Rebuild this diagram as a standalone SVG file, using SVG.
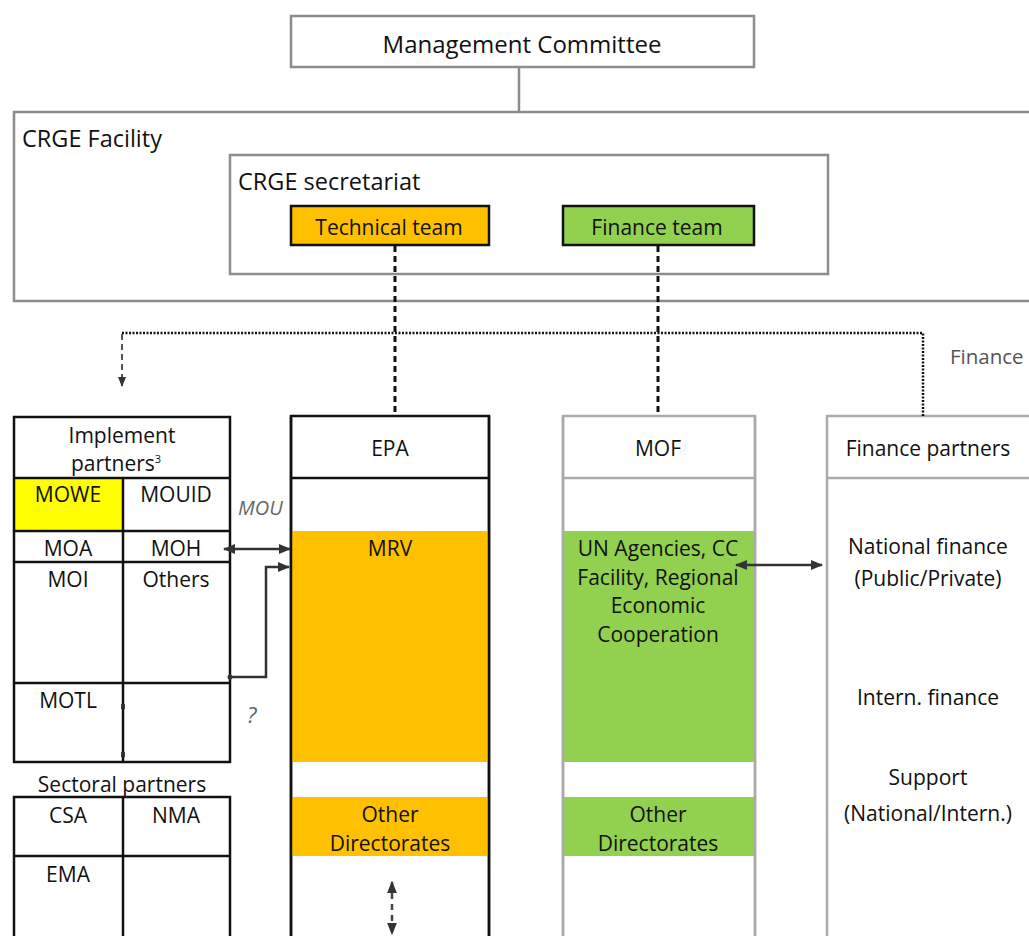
<svg xmlns="http://www.w3.org/2000/svg" width="1029" height="936" viewBox="0 0 1029 936">
<defs>
<style>
text{font-family:"Open Sans","Noto Sans","Liberation Sans",sans-serif;fill:#111;}
.t24{font-size:24px;}
.t23{font-size:23.5px;}
.t19{font-size:21px;}
.c{text-anchor:middle;}
.gbox{fill:none;stroke:#8c8c8c;stroke-width:2.5;}
.gcol{fill:#fff;stroke:#aaa;stroke-width:2.5;}
.bcol{fill:#fff;stroke:#111;stroke-width:2.5;}
.bl{stroke:#111;stroke-width:2.5;fill:none;}
.gl{stroke:#aaa;stroke-width:2.5;fill:none;}
.dash{stroke:#111;stroke-width:3;stroke-dasharray:6 4;fill:none;}
.dot{stroke:#111;stroke-width:2.5;stroke-dasharray:2 1.5;fill:none;}
.arr{stroke:#333;stroke-width:2.5;fill:none;}
.note{font-style:italic;fill:#666;font-size:20px;}
</style>
<marker id="ah" viewBox="0 0 10 10" refX="9" refY="5" markerWidth="5" markerHeight="5" orient="auto-start-reverse"><path d="M0,1 L10,5 L0,9 z" fill="#333"/></marker>
</defs>

<g id="mc">
<rect class="gbox" x="291" y="16" width="463" height="51" fill="#fff"/>
<text class="t24 c" x="522" y="53">Management Committee</text>
</g>

<g id="facility">
<rect class="gbox" x="14" y="112" width="1030" height="189"/>
<text class="t23" x="22" y="147">CRGE Facility</text>
</g>

<g id="secretariat">
<rect class="gbox" x="230" y="155" width="598" height="119"/>
<text class="t23" x="238" y="190">CRGE secretariat</text>
</g>

<g id="technical-team">
<rect x="291" y="206" width="198" height="39" fill="#FFC000" stroke="#111" stroke-width="2.5"/>
<text class="t19 c" x="389" y="235">Technical team</text>
</g>

<g id="finance-team">
<rect x="563" y="206" width="191" height="39" fill="#92D050" stroke="#111" stroke-width="2.5"/>
<text class="t19 c" x="657" y="235">Finance team</text>
</g>

<g id="finance-label">
<text x="950" y="364" style="font-size:20.5px;fill:#555">Finance</text>
</g>

<g id="implement-partners">
<rect x="14" y="478" width="109" height="53" fill="#FFFF00"/>
<rect class="bl" x="14" y="417" width="216" height="345"/>
<line class="bl" x1="14" y1="478" x2="230" y2="478"/>
<line class="bl" x1="14" y1="531" x2="230" y2="531"/>
<line class="bl" x1="14" y1="562" x2="230" y2="562"/>
<line class="bl" x1="14" y1="683" x2="230" y2="683"/>
<line class="bl" x1="123" y1="478" x2="123" y2="762"/>
<rect x="121" y="704" width="4" height="5" fill="#333"/>
<rect x="121" y="752" width="4" height="5" fill="#333"/>
<text class="t19 c" x="122" y="443">Implement</text>
<text class="t19 c" x="116" y="471">partners<tspan dy="-8" style="font-size:11px">3</tspan></text>
<text class="t19 c" x="68" y="502">MOWE</text>
<text class="t19 c" x="176" y="502">MOUID</text>
<text class="t19 c" x="68" y="556">MOA</text>
<text class="t19 c" x="176" y="556">MOH</text>
<text class="t19 c" x="68" y="587">MOI</text>
<text class="t19 c" x="176" y="587">Others</text>
<text class="t19 c" x="68" y="708">MOTL</text>
</g>

<g id="sectoral-partners">
<text class="t19 c" x="122" y="792">Sectoral partners</text>
<rect class="bl" x="14" y="797" width="216" height="150"/>
<line class="bl" x1="14" y1="856" x2="230" y2="856"/>
<line class="bl" x1="123" y1="797" x2="123" y2="946"/>
<text class="t19 c" x="68" y="823">CSA</text>
<text class="t19 c" x="176" y="823">NMA</text>
<text class="t19 c" x="68" y="882">EMA</text>
</g>

<g id="epa">
<rect class="bcol" x="291" y="416" width="198" height="540"/>
<rect x="292" y="531" width="196" height="231" fill="#FFC000"/>
<rect x="292" y="797" width="196" height="59" fill="#FFC000"/>
<line class="bl" x1="291" y1="478" x2="489" y2="478"/>
<line class="bl" x1="291" y1="416" x2="291" y2="946"/>
<line class="bl" x1="489" y1="416" x2="489" y2="946"/>
<text class="t19 c" x="390" y="456">EPA</text>
<text class="t19 c" x="390" y="556">MRV</text>
<text class="t19 c" x="390" y="822">Other</text>
<text class="t19 c" x="390" y="851">Directorates</text>
</g>

<g id="mof">
<rect class="gcol" x="563" y="416" width="192" height="540"/>
<rect x="564" y="531" width="190" height="231" fill="#92D050"/>
<rect x="564" y="797" width="190" height="59" fill="#92D050"/>
<line class="gl" x1="563" y1="478" x2="755" y2="478"/>
<line class="gl" x1="563" y1="416" x2="563" y2="946"/>
<line class="gl" x1="755" y1="416" x2="755" y2="946"/>
<text class="t19 c" x="658" y="456">MOF</text>
<text class="t19 c" x="658" y="556">UN Agencies, CC</text>
<text class="t19 c" x="658" y="585">Facility, Regional</text>
<text class="t19 c" x="658" y="613">Economic</text>
<text class="t19 c" x="658" y="642">Cooperation</text>
<text class="t19 c" x="658" y="822">Other</text>
<text class="t19 c" x="658" y="851">Directorates</text>
</g>

<g id="finance-partners">
<rect class="gcol" x="827" y="416" width="220" height="540"/>
<line class="gl" x1="827" y1="478" x2="1040" y2="478"/>
<text class="t19 c" x="928" y="456">Finance partners</text>
<text class="t19 c" x="928" y="554">National finance</text>
<text class="t19 c" x="928" y="586">(Public/Private)</text>
<text class="t19 c" x="928" y="705">Intern. finance</text>
<text class="t19 c" x="928" y="785">Support</text>
<text class="t19 c" x="928" y="821">(National/Intern.)</text>
</g>

<g id="connectors">
<line x1="519" y1="67" x2="519" y2="112" stroke="#8c8c8c" stroke-width="2.5"/>
<line class="dash" x1="395" y1="246" x2="395" y2="416"/>
<line class="dash" x1="658" y1="246" x2="658" y2="416"/>
<polyline class="dot" points="923,416 923,333 122,333"/>
<line x1="122" y1="334" x2="122" y2="386" stroke="#555" stroke-width="2" stroke-dasharray="6 4" marker-end="url(#ah)"/>
<line class="arr" x1="224" y1="549" x2="290" y2="549" marker-start="url(#ah)" marker-end="url(#ah)"/>
<polyline class="arr" points="230,677 266,677 266,567 289,567" marker-end="url(#ah)"/>
<circle cx="230" cy="677" r="2.5" fill="#333"/>
<line class="arr" x1="736" y1="565" x2="822" y2="565" marker-start="url(#ah)" marker-end="url(#ah)"/>
<line x1="392" y1="882" x2="392" y2="934" stroke="#444" stroke-width="2.5" stroke-dasharray="6 5" marker-start="url(#ah)" marker-end="url(#ah)"/>
<text class="note" x="238" y="515">MOU</text>
<text class="note" x="247" y="723" style="font-size:22px">?</text>
</g>
</svg>
